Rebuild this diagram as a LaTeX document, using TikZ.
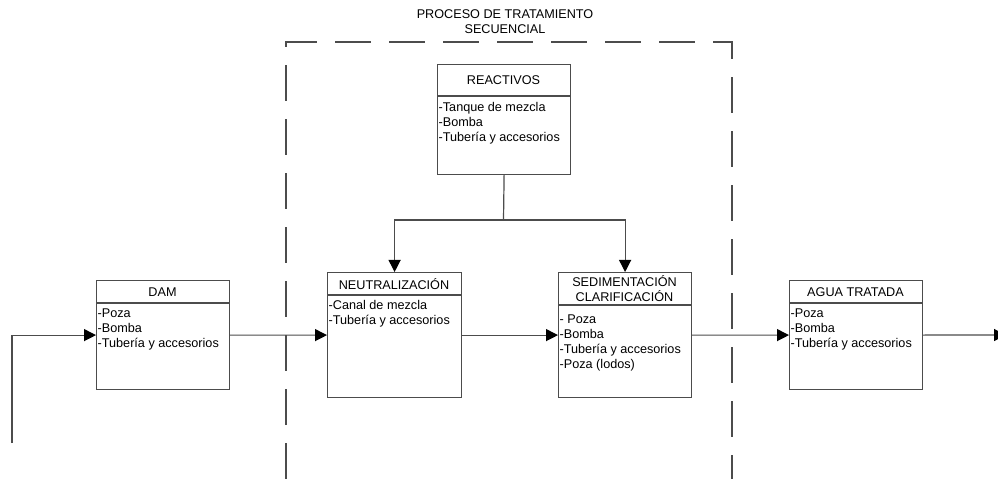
\documentclass[tikz,border=0pt]{standalone}
\usepackage{fontspec}
\setmainfont{Liberation Sans}
\usetikzlibrary{arrows.meta}

\begin{document}
\begin{tikzpicture}[x=0.25mm, y=-0.25mm,
  every node/.style={font=\fontsize{9}{10.6}\selectfont, inner sep=0pt},
  box/.style={draw=black!70, line width=0.3mm, rectangle, anchor=north west, minimum width=33.25mm},
  items/.style={anchor=north west, align=left, inner sep=1pt},
  flow/.style={draw=black!70, line width=0.3mm, -{Triangle[length=3mm,width=3mm,fill=black,color=black]}}]
\useasboundingbox (0,0) rectangle (998,479);

% Title and dashed frame
\node (T) at (505,22) [align=center] {PROCESO DE TRATAMIENTO\\SECUENCIAL};
\draw[black!70, line width=0.3mm, dash pattern=on 9mm off 4.5mm] (286,479) -- (286,42) -- (732,42) -- (732,479);

% Boxes
\node (D) [box, minimum height=27.25mm] at (96,280) {};
\node (R) [box, minimum height=27.5mm] at (437,64) {};
\node (N) [box, minimum height=31.25mm, minimum width=33.5mm] at (327,272) {};
\node (S) [box, minimum height=31.25mm] at (558,272) {};
\node (A) [box, minimum height=27.25mm] at (789,280) {};

% Header lines
\draw[black!70, line width=0.3mm] (96,303) -- (229,303);
\draw[black!70, line width=0.3mm] (437,96) -- (570,96);
\draw[black!70, line width=0.3mm] (327,295) -- (461,295);
\draw[black!70, line width=0.3mm] (558,305) -- (691,305);
\draw[black!70, line width=0.3mm] (789,303) -- (922,303);

% Headers
\node (Dh) at (162.5,292) {DAM};
\node (Rh) at (503.5,80) {REACTIVOS};
\node (Nh) at (394,284) {NEUTRALIZACIÓN};
\node (Sh) at (624.5,288.5) [align=center] {SEDIMENTACIÓN\\CLARIFICACIÓN};
\node (Ah) at (855.5,292) {AGUA TRATADA};

% Contents
\node (Dl) [items] at (96,307) {-Poza\\-Bomba\\-Tubería y accesorios};
\node (Rl) [items] at (437,101) {-Tanque de mezcla\\-Bomba\\-Tubería y accesorios};
\node (Nl) [items] at (327,299) {-Canal de mezcla\\-Tubería y accesorios};
\node (Sl) [items] at (558,313) {- Poza\\-Bomba\\-Tubería y accesorios\\-Poza (lodos)};
\node (Al) [items] at (789,307) {-Poza\\-Bomba\\-Tubería y accesorios};

% Connectors
\coordinate (in) at (12,443);
\coordinate (out) at (1006,335);
\coordinate (j) at (503.5,220);
\draw[flow] (in) |- (D.west);
\draw[flow] (D.east) -- (N.west);
\draw[flow] (N.east) -- (S.west);
\draw[flow] (S.east) -- (A.west);
\draw[flow] (A.east) -- (out);
\draw[black!70, line width=0.3mm] (R.south) -- (j);
\draw[flow] (j) -| (N.north);
\draw[flow] (j) -| (S.north);
\end{tikzpicture}
\end{document}
